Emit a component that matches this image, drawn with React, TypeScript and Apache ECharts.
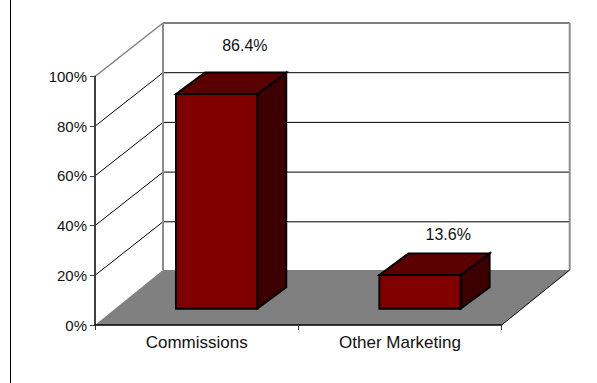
import React, { useEffect, useRef } from "react";
import * as echarts from "echarts";

const categories = ["Commissions", "Other Marketing"];
const shares = [86.4, 13.6];
const shareLabels = ["86.4%", "13.6%"];
const wallTicks = [20, 40, 60, 80, 100];

// Oblique projection of the box: how far the back wall sits from the front plane.
const DEPTH_X = 68;
const DEPTH_Y = 55;
const WALL_LINE_RISE = 53.5;
// Where the columns stand on the floor, and how deep they are.
const COLUMN_SHIFT_X = 20;
const COLUMN_SHIFT_Y = 16.3;
const COLUMN_DEPTH_X = 29;
const COLUMN_DEPTH_Y = 21.5;
const COLUMN_WIDTH_RATIO = 0.4;
const LABEL_SHIFT_X = 28.2;
const LABEL_LIFT = [48.5, 40];

const FONT = "Liberation Sans, Arial, sans-serif";
const TEXT_COLOR = "#111111";

const line = (x1: number, y1: number, x2: number, y2: number, stroke: string, lineWidth: number) => ({
  type: "line",
  shape: { x1, y1, x2, y2 },
  style: { stroke, lineWidth, fill: "none" },
});

const poly = (points: number[][], fill: string, stroke: string | null, lineWidth = 0) => ({
  type: "polygon",
  shape: { points },
  style: { fill, stroke: stroke ?? "none", lineWidth },
});

// Side wall, back wall, floor and the gridlines running across them.
function renderBox(params: any, api: any) {
  const rect = params.coordSys;
  const left = rect.x;
  const right = rect.x + rect.width;
  const yAt = (v: number) => api.coord([0, v])[1];
  const base = yAt(0);
  const top = yAt(100);
  const children: any[] = [];

  children.push(
    poly(
      [
        [left + DEPTH_X, base - DEPTH_Y],
        [right + DEPTH_X, base - DEPTH_Y],
        [right, base],
        [left, base],
      ],
      "#808080",
      null,
    ),
  );
  wallTicks.forEach((v) => {
    const y = yAt(v);
    const color = v === 100 ? "#808080" : "#000000";
    const width = v === 100 ? 2 : 1;
    children.push(line(left, y, left + DEPTH_X, y - WALL_LINE_RISE, color, v === 100 ? 1.5 : 1));
    children.push(line(left + DEPTH_X, y - WALL_LINE_RISE, right + DEPTH_X, y - WALL_LINE_RISE, color, width));
  });
  children.push(line(left + DEPTH_X, top - WALL_LINE_RISE, left + DEPTH_X, base - DEPTH_Y, "#8c8c8c", 2));
  children.push(line(right + DEPTH_X, top - WALL_LINE_RISE, right + DEPTH_X, base - DEPTH_Y, "#8c8c8c", 2));
  children.push(line(right, base, right + DEPTH_X, base - DEPTH_Y, "#000000", 1));
  return { type: "group", children };
}

// One extruded column with its value label.
function renderColumn(params: any, api: any) {
  const index = api.value(0);
  const [cx, yTop] = api.coord([index, api.value(1)]);
  const yBase = api.coord([index, 0])[1];
  const width = api.size([1, 0])[0] * COLUMN_WIDTH_RATIO;
  const x0 = cx - width / 2 + COLUMN_SHIFT_X;
  const x1 = x0 + width;
  const y0 = yTop - COLUMN_SHIFT_Y;
  const y1 = yBase - COLUMN_SHIFT_Y;
  const dx = COLUMN_DEPTH_X;
  const dy = COLUMN_DEPTH_Y;
  const stroke = "#000000";
  return {
    type: "group",
    children: [
      poly([[x1, y0], [x1 + dx, y0 - dy], [x1 + dx, y1 - dy], [x1, y1]], "#3c0000", stroke, 1.8),
      poly([[x0, y0], [x0 + dx, y0 - dy], [x1 + dx, y0 - dy], [x1, y0]], "#5a0000", stroke, 1.8),
      {
        type: "rect",
        shape: { x: x0, y: y0, width, height: y1 - y0 },
        style: { fill: "#800000", stroke, lineWidth: 2 },
      },
      {
        type: "text",
        x: cx + COLUMN_SHIFT_X + LABEL_SHIFT_X,
        y: y0 - LABEL_LIFT[params.dataIndex],
        style: {
          text: shareLabels[params.dataIndex],
          fill: TEXT_COLOR,
          font: `16px ${FONT}`,
          textAlign: "center",
          textVerticalAlign: "middle",
        },
      },
    ],
  };
}

export default function App() {
  const ref = useRef<HTMLDivElement>(null);

  useEffect(() => {
    if (!ref.current) return;
    const chart = echarts.init(ref.current, undefined, { renderer: "svg" });
    chart.setOption({
      animation: false,
      backgroundColor: "#ffffff",
      grid: { left: 95, top: 76.5, width: 406.7, height: 248.5, containLabel: false },
      xAxis: {
        type: "category",
        data: categories,
        z: 5,
        axisLine: { show: true, lineStyle: { color: "#000000", width: 1.5 } },
        axisTick: { show: true, length: 5, lineStyle: { color: "#333333", width: 1 } },
        axisLabel: { color: TEXT_COLOR, fontFamily: FONT, fontSize: 17, margin: 9 },
        splitLine: { show: false },
      },
      yAxis: {
        type: "value",
        min: 0,
        max: 100,
        interval: 20,
        z: 5,
        axisLine: { show: true, lineStyle: { color: "#404040", width: 2 } },
        axisTick: { show: true, length: 5, lineStyle: { color: "#404040", width: 1 } },
        axisLabel: {
          color: TEXT_COLOR,
          fontFamily: FONT,
          fontSize: 15,
          margin: 8,
          formatter: (v: number) => `${v}%`,
        },
        splitLine: { show: false },
      },
      series: [
        {
          type: "custom",
          coordinateSystem: "cartesian2d",
          renderItem: renderBox,
          data: [[0, 0]],
          silent: true,
          z: 1,
          clip: false,
        },
        {
          type: "custom",
          coordinateSystem: "cartesian2d",
          renderItem: renderColumn,
          data: shares.map((v, i) => [i, v]),
          encode: { x: 0, y: 1 },
          silent: true,
          z: 2,
          clip: false,
        },
      ],
      graphic: [
        {
          type: "line",
          shape: { x1: 10.5, y1: 0, x2: 10.5, y2: 383 },
          style: { stroke: "#000000", lineWidth: 1 },
        },
      ],
    });
    return () => chart.dispose();
  }, []);

  return (
    <div
      ref={ref}
      style={{ position: "absolute", left: 0, top: 0, width: 597, height: 383 }}
    />
  );
}
